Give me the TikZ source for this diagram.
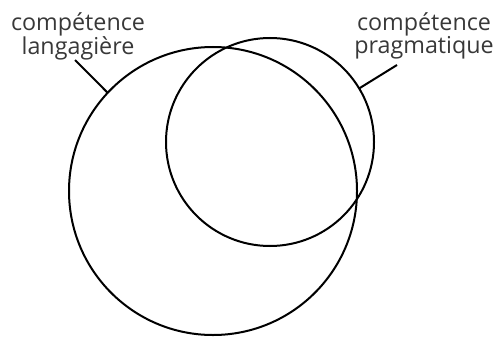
\documentclass[tikz,border=0pt]{standalone}
\usepackage{fontspec}
\setmainfont{Open Sans}
\begin{document}
\begin{tikzpicture}[x=1pt,y=-1pt,
  ring/.style={draw=black, line width=2pt, circle, inner sep=0pt, outer sep=0pt},
  leader/.style={draw=black, line width=2pt},
  lbl/.style={text=black!78, font=\fontsize{23.3}{17}\selectfont, align=center, inner sep=0pt, anchor=north}]
\useasboundingbox (0,0) rectangle (494,337);
\node[ring, minimum size=288pt] (big) at (213,191) {};
\node[ring, minimum size=208pt] (small) at (270,142) {};
\node[lbl] (l1) at (78,12) {compétence\\langagière};
\node[lbl] (l2) at (424,12) {compétence\\pragmatique};
\coordinate (e1) at (75,60);
\coordinate (e2) at (397,65);
\draw[leader] (e1) -- (big.137);
\draw[leader] (e2) -- (small.31);
\end{tikzpicture}
\end{document}
